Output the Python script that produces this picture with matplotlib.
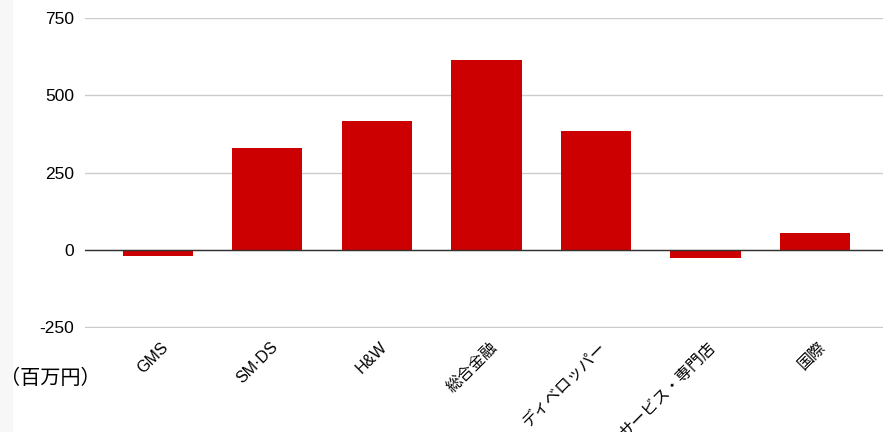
import matplotlib
matplotlib.use('Agg')
import matplotlib.pyplot as plt
from matplotlib.patches import Rectangle
from matplotlib.transforms import ScaledTranslation

plt.rcParams['font.family'] = ['Liberation Sans', 'Noto Sans CJK JP', 'DejaVu Sans']

# データ（百万円）
categories = ['GMS', 'SM·DS', 'H&W', '総合金融', 'ディベロッパー', 'サービス・専門店', '国際']
values = [-21, 330, 417, 615, 385, -26, 55]
yticks = [-250, 0, 250, 500, 750]

fig = plt.figure(figsize=(8.83, 4.32), dpi=100)
fig.patches.append(Rectangle((0, 0), 12 / 883, 1, transform=fig.transFigure,
                             color='#f7f7f7', zorder=0))

ax = fig.add_axes([85 / 883, 104 / 432, 1 - 85 / 883, 310 / 432])
x = list(range(len(categories)))
ax.bar(x, values, width=0.64, color='#cc0000', zorder=3)

ax.set_xlim(-0.665, 6.62)
ax.set_ylim(-253, 750)
ax.set_yticks(yticks)
ax.set_yticklabels([str(v) for v in yticks], fontsize=12.5)
ax.yaxis.grid(True, color='#cccccc', linewidth=1, zorder=0)
ax.axhline(0, color='#333333', linewidth=1, zorder=4)

ax.set_xticks(x)
ax.set_xticklabels(categories, rotation=45, ha='right', va='center',
                   rotation_mode='anchor', fontsize=11.5)
ax.tick_params(axis='x', length=0, pad=12)
ax.tick_params(axis='y', length=0, pad=8)
offset = ScaledTranslation(8 / 100, 0, fig.dpi_scale_trans)
for lbl in ax.get_xticklabels():
    lbl.set_transform(lbl.get_transform() + offset)

for s in ax.spines.values():
    s.set_visible(False)

fig.text(0, 1 - 378 / 432, '（百万円）', fontsize=14.5, va='center', ha='left',
         family=['Noto Sans CJK JP'])

fig.savefig('out.png', dpi=100)
